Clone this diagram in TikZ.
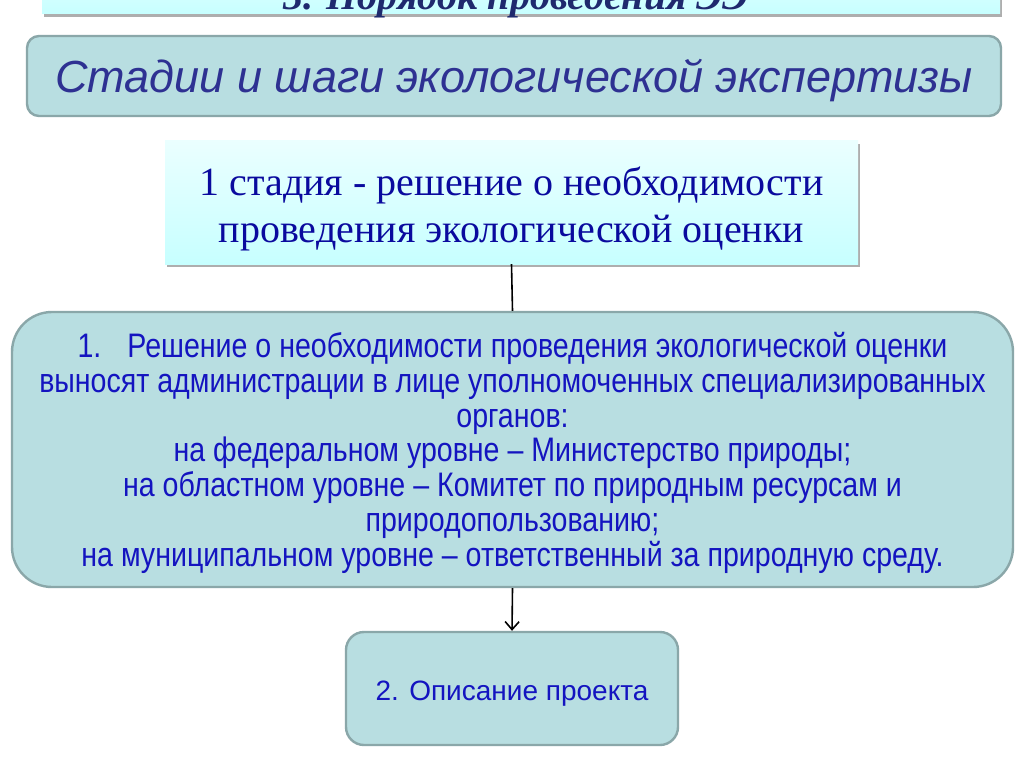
\documentclass[tikz,border=0pt]{standalone}
\usepackage{fontspec}
\setmainfont{Liberation Serif}
\newfontfamily\arialf{Liberation Sans}
\newfontfamily\narrowf[FakeStretch=0.84]{Liberation Sans}
\usetikzlibrary{shadows,arrows.meta}
\definecolor{boxfill}{HTML}{B8DEE1}
\definecolor{boxline}{HTML}{8AA7A9}
\definecolor{headtext}{HTML}{2E3192}
\definecolor{bluetext}{HTML}{1414C0}
\definecolor{stagetext}{HTML}{0A0A9E}
\definecolor{titletext}{HTML}{1F2A6E}
\tikzset{
  tealbox/.style={draw=boxline, line width=2.4pt, fill=boxfill, inner sep=0pt},
  cyanbox/.style={inner sep=0pt, top color=cyan!8!white, bottom color=cyan!22!white,
    drop shadow={shadow xshift=2pt, shadow yshift=-3pt, opacity=0.45, fill=black!70}},
  conn/.style={line width=1.6pt, black}
}
\begin{document}
\begin{tikzpicture}[x=1pt,y=-1pt]
\useasboundingbox (0,0) rectangle (1024,767);
\fill[white] (0,0) rectangle (1024,767);
\begin{scope}
\clip (0,0) rectangle (1024,767);
\node[cyanbox, minimum width=958pt, minimum height=60pt] (title) at (521,-16) {};
\node[anchor=base, text=titletext, font={\fontsize{40}{44}\selectfont\bfseries\itshape}] (ttext) at (516,10) {3. Порядок проведения ЭЭ};
\end{scope}

\node[tealbox, rounded corners=12pt, minimum width=974pt, minimum height=80pt] (head) at (514,76)
  {\arialf\itshape\fontsize{45}{48}\selectfont\color{headtext}\rule{0pt}{43pt}Стадии и шаги экологической экспертизы};

\node[cyanbox, minimum width=693pt, minimum height=123pt, align=center,
  font={\fontsize{40}{47}\selectfont}, text=stagetext] (s1) at (511.5,202.5)
  {\rule{0pt}{42pt}1 стадия - решение о необходимости\\проведения экологической оценки};

\node[tealbox, rounded corners=40pt, minimum width=1001pt, minimum height=275pt, align=center,
  font={\narrowf\fontsize{34}{34.7}\selectfont}, text=bluetext] (big) at (512.5,449.5)
  {\rule{0pt}{32pt}1.\hspace{26pt}Решение о необходимости проведения экологической оценки\\
   выносят администрации в лице уполномоченных специализированных\\
   органов:\\
   на федеральном уровне – Министерство природы;\\
   на областном уровне – Комитет по природным ресурсам и\\
   природопользованию;\\
   на муниципальном уровне – ответственный за природную среду.};

\node[tealbox, rounded corners=18pt, minimum width=332pt, minimum height=113pt,
  font={\arialf\fontsize{28}{32}\selectfont}, text=bluetext] (s2) at (512,688.5)
  {\rule{0pt}{29pt}2. Описание проекта};

\draw[conn] (s1.south) -- (big.north);
\draw[conn, -{Straight Barb[length=8pt,width=14pt,line width=1.6pt]}] (big.south) -- (s2.north);
\end{tikzpicture}
\end{document}
